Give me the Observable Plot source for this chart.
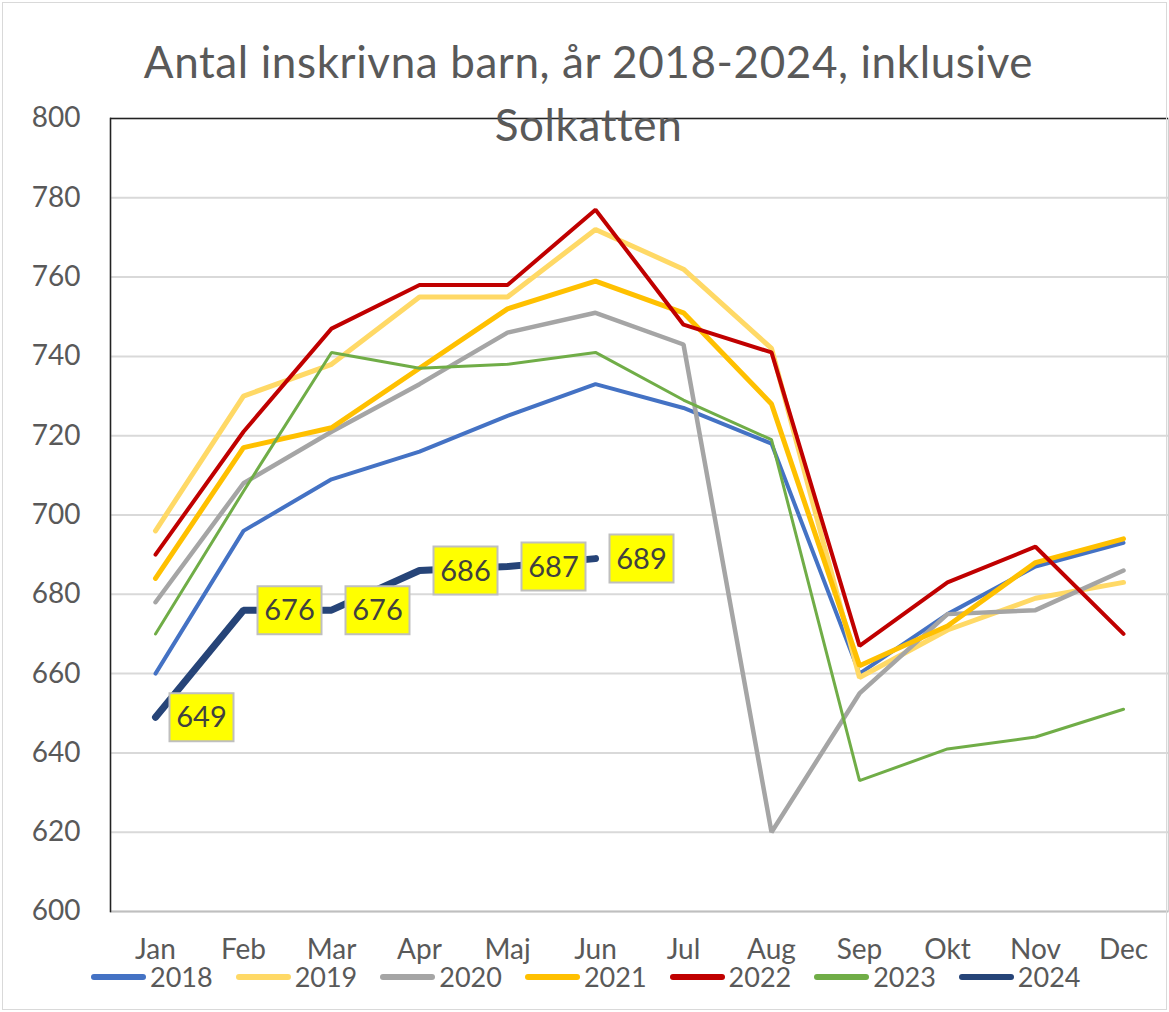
<!DOCTYPE html>
<html>
<head>
<meta charset="utf-8">
<script src="https://cdn.jsdelivr.net/npm/d3@7"></script>
<script src="https://cdn.jsdelivr.net/npm/@observablehq/plot@0.6"></script>
<style>
  html, body { margin: 0; padding: 0; background: #fff; }
  #wrap { position: relative; width: 1169px; height: 1012px; font-family: Lato, "Open Sans", sans-serif; color: #595959; }
  #title { position: absolute; left: 0; width: 1169px; top: 30px; text-align: center; font-size: 44px; line-height: 63px; letter-spacing: 0.6px; color: #595959; pointer-events: none; z-index: 2; }
  #title div { padding-left: 8px; }
  #legend { position: absolute; left: 91px; top: 961px; display: flex; font-size: 27px; line-height: 32px; color: #595959; }
  #legend .item { display: flex; align-items: center; margin-right: 23px; }
  #legend .sw { width: 55px; height: 6px; border-radius: 3px; margin-right: 4px; }
  #frame { position: absolute; left: 2px; top: 2px; width: 1163px; height: 1006px; border: 1px solid #d9d9d9; pointer-events: none; }
</style>
</head>
<body>
<div id="wrap">
  <div id="frame"></div>
  <div id="chart"></div>
  <div id="title"><div>Antal inskrivna barn, år 2018-2024, inklusive</div><div>Solkatten</div></div>
  <div id="legend"></div>
</div>
<script>
const months = ["Jan","Feb","Mar","Apr","Maj","Jun","Jul","Aug","Sep","Okt","Nov","Dec"];
const years = ["2018","2019","2020","2021","2022","2023","2024"];
const v2018 = [660, 696, 709, 716, 725, 733, 727, 718, 660, 675, 687, 693];
const v2019 = [696, 730, 738, 755, 755, 772, 762, 742, 659, 671, 679, 683];
const v2020 = [678, 708, 721, 733, 746, 751, 743, 620, 655, 675, 676, 686];
const v2021 = [684, 717, 722, 737, 752, 759, 751, 728, 662, 672, 688, 694];
const v2022 = [690, 721, 747, 758, 758, 777, 748, 741, 667, 683, 692, 670];
const v2023 = [670, 706, 741, 737, 738, 741, 729, 719, 633, 641, 644, 651];
const v2024 = [649, 676, 676, 686, 687, 689];
const yTicks = [600, 620, 640, 660, 680, 700, 720, 740, 760, 780, 800];

const colors = {"2018":"#4472C4","2019":"#FFD966","2020":"#A5A5A5","2021":"#FFC000","2022":"#C00000","2023":"#70AD47","2024":"#264478"};
const widths = {"2018":4,"2019":5,"2020":4.5,"2021":5,"2022":4,"2023":3,"2024":7};
const series = {"2018":v2018,"2019":v2019,"2020":v2020,"2021":v2021,"2022":v2022,"2023":v2023,"2024":v2024};

const rows = [];
for (const yr of years) series[yr].forEach((v, i) => rows.push({year: yr, month: months[i], value: v}));
const rows2024 = rows.filter(d => d.year === "2024");

const boxSymbol = { draw(ctx) { ctx.rect(-32, -24, 64, 48); } };

const lineMarks = years.map(yr => Plot.line(rows.filter(d => d.year === yr), {
  x: "month", y: "value", stroke: colors[yr], strokeWidth: widths[yr],
  strokeLinecap: "round", strokeLinejoin: "miter"
}));

const chart = Plot.plot({
  width: 1169, height: 1012,
  marginLeft: 110, marginRight: 1, marginTop: 118, marginBottom: 101,
  style: {fontFamily: "Lato, 'Open Sans', sans-serif", fontSize: "28px", color: "#595959", background: "transparent"},
  x: {type: "point", domain: months, padding: 0.5, label: null},
  y: {domain: [600, 800], ticks: yTicks, label: null},
  marks: [
    Plot.ruleY(yTicks.slice(1, -1), {stroke: "#d9d9d9", strokeWidth: 2}),
    Plot.frame({stroke: "#d0d0d0", strokeWidth: 1.5}),
    Plot.ruleY([600], {stroke: "#bfbfbf", strokeWidth: 2}),
    Plot.ruleY([800], {stroke: "#222", strokeWidth: 1.5}),
    Plot.frame({anchor: "left", stroke: "#222", strokeWidth: 1.5}),
    Plot.axisY({ticks: yTicks, tickSize: 0, tickPadding: 30, fontSize: 28, fill: "#595959"}),
    Plot.axisX({tickSize: 0, tickPadding: 28, fontSize: 28, fill: "#595959"}),
    ...lineMarks,
    Plot.dot(rows2024, {x: "month", y: "value", symbol: boxSymbol, dx: 46, fill: "#ffff00", stroke: "#bfbfbf", strokeWidth: 2}),
    Plot.text(rows2024, {x: "month", y: "value", text: d => String(d.value), dx: 46, dy: 1, fontSize: 29, fill: "#404040"})
  ]
});
document.getElementById("chart").appendChild(chart);

const legend = document.getElementById("legend");
for (const yr of years) {
  const it = document.createElement("div");
  it.className = "item";
  const sw = document.createElement("div");
  sw.className = "sw";
  sw.style.background = colors[yr];
  const tx = document.createElement("span");
  tx.textContent = yr;
  it.appendChild(sw); it.appendChild(tx);
  legend.appendChild(it);
}
</script>
</body>
</html>
